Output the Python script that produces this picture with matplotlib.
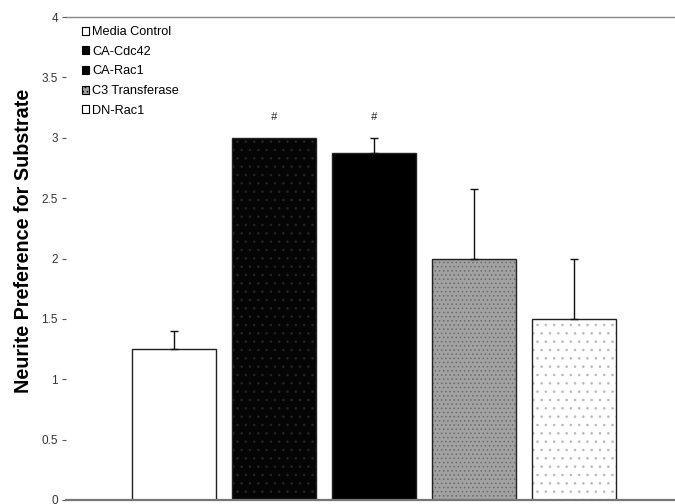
import matplotlib
matplotlib.use("Agg")
import matplotlib.pyplot as plt
from matplotlib.patches import Patch

plt.rcParams['font.family'] = ['Liberation Sans', 'DejaVu Sans']
plt.rcParams['hatch.linewidth'] = 0.6

categories = ["Media Control", "CA-Cdc42", "CA-Rac1", "C3 Transferase", "DN-Rac1"]
means = [1.25, 3.0, 2.875, 2.0, 1.5]
errors = [0.15, 0.0, 0.125, 0.58, 0.5]
significant = [False, True, True, False, False]
y_ticks = [0, 0.5, 1, 1.5, 2, 2.5, 3, 3.5, 4]
y_tick_labels = ["0", "0.5", "1", "1.5", "2", "2.5", "3", "3.5", "4"]

faces = ["white", "#050505", "black", "#a2a2a2", "white"]
hatches = [None, "..", None, "....", ".."]
hatch_colors = [None, "#262626", None, "#6a6a6a", "#b8b8b8"]

fig = plt.figure(figsize=(6.75, 5.04), dpi=100)
ax = fig.add_axes([0.098, 0.008, 0.902, 0.958])

x = list(range(len(categories)))
width = 0.84

# textured fill first, then a clean outline on top
for i in x:
    ax.bar(i, means[i], width=width, color=faces[i], linewidth=0, zorder=2)
    if hatches[i]:
        ax.bar(i, means[i], width=width, facecolor="none", edgecolor=hatch_colors[i],
               hatch=hatches[i], linewidth=0, zorder=3)
    ax.bar(i, means[i], width=width, facecolor="none", edgecolor="#222222",
           linewidth=1.0, zorder=4)

# upper error bars only
for i in x:
    if errors[i] > 0:
        ax.errorbar(i, means[i], yerr=[[0], [errors[i]]], fmt="none", ecolor="#111111",
                    elinewidth=1.0, capsize=3, capthick=1.0, zorder=5)

for i in x:
    if significant[i]:
        ax.text(i, 3.17, "#", ha="center", va="center", fontsize=8, style="italic",
                color="#222222")

ax.set_xlim(-1.08, 5.01)
ax.set_ylim(0, 4)
ax.set_yticks(y_ticks)
ax.set_yticklabels(y_tick_labels)
ax.tick_params(axis="y", direction="out", length=3, width=0.8, color="#555555",
               labelsize=8.5, labelcolor="#333333", pad=3)
ax.set_xticks([])
for s in ["left", "right", "bottom", "top"]:
    ax.spines[s].set_visible(False)
ax.axhline(4, color="#888888", linewidth=1.0, zorder=1, clip_on=False)
ax.axhline(0, color="#777777", linewidth=1.6, zorder=6, clip_on=False)

ax.set_ylabel("Neurite Preference for Substrate", fontsize=14.2, fontweight="bold")
ax.yaxis.set_label_coords(-0.055, 0.536)

handles = [
    Patch(facecolor=faces[i], edgecolor="black", linewidth=0.8,
          hatch=hatches[i] if i == 3 else None)
    for i in x
]
leg = ax.legend(handles, categories, loc="upper left", bbox_to_anchor=(0.017, 0.992),
                frameon=False, fontsize=9.2, handlelength=0.6, handleheight=0.6,
                handletextpad=0.25, labelspacing=0.6, borderaxespad=0.0)

fig.savefig("out.png", dpi=100)
